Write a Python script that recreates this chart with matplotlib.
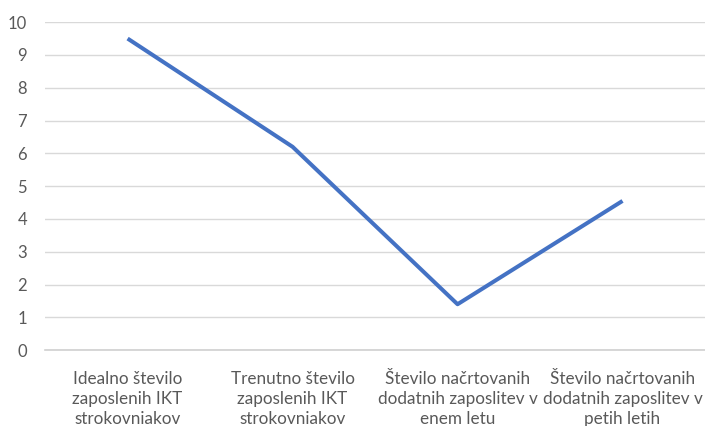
import matplotlib.pyplot as plt

# data
categories = ['Idealno število\nzaposlenih IKT\nstrokovniakov',
              'Trenutno število\nzaposlenih IKT\nstrokovniakov',
              'Število načrtovanih\ndodatnih zaposlitev v\nenem letu',
              'Število načrtovanih\ndodatnih zaposlitev v\npetih letih']
values = [9.5, 6.2, 1.4, 4.55]
yticks = list(range(0, 11))

plt.rcParams['font.family'] = ['Lato', 'DejaVu Sans']

fig = plt.figure(figsize=(7.05, 4.26), dpi=100)
ax = fig.add_axes([0.064, 0.178, 0.936, 0.77])

x = range(len(categories))
ax.plot(x, values, color='#4472C4', linewidth=2.9, solid_capstyle='butt', zorder=3)

ax.set_xlim(-0.5, len(categories) - 0.5)
ax.set_ylim(0, 10)
ax.set_yticks(yticks)
ax.set_xticks(list(x))
ax.set_xticklabels(categories, fontsize=12.3, color='#595959', linespacing=1.3)
ax.tick_params(axis='y', labelsize=12, colors='#595959', length=0, pad=13)
ax.tick_params(axis='x', length=0, pad=15)
ax.grid(axis='y', color='#D9D9D9', linewidth=1)
ax.set_axisbelow(True)
for s in ['top', 'right', 'left']:
    ax.spines[s].set_visible(False)
ax.spines['bottom'].set_color('#D0D0D0')
ax.spines['bottom'].set_linewidth(1.2)

fig.savefig('out.png', dpi=100)
